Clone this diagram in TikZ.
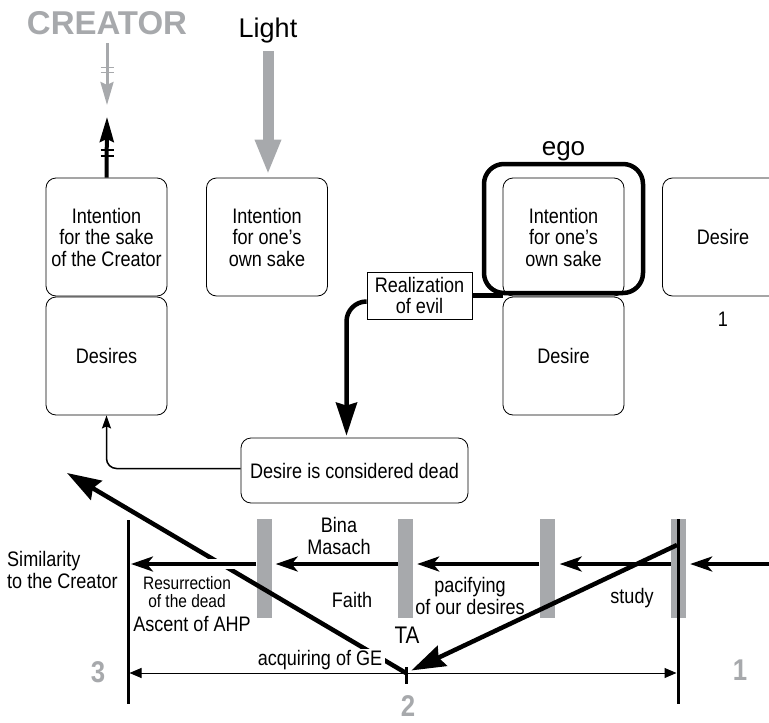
\documentclass[tikz,border=0pt]{standalone}
\usepackage{fontspec}
\setmainfont[FakeStretch=0.86]{Liberation Sans}
\newfontfamily\widesans{Liberation Sans}
\usepackage{tikz}
\usetikzlibrary{arrows.meta}
\usetikzlibrary{positioning}
\definecolor{bargray}{HTML}{A7A9AC}

\begin{document}
\begin{tikzpicture}[x=1pt,y=-1pt,
  font=\fontsize{21}{21.5}\selectfont,
  box/.style={draw,line width=0.8pt,rounded corners=10pt,minimum width=121pt,minimum height=118pt,align=center,inner sep=1pt},
  txt/.style={align=center,inner sep=1pt},
  num/.style={font=\fontsize{30}{30}\selectfont\bfseries,text=bargray},
  bar/.style={fill=bargray,minimum width=15pt,minimum height=99pt,inner sep=0pt},
  flow/.style={line width=3.5pt,-{Stealth[length=22pt,width=15pt,inset=6pt]}},
  bigarrow/.style={line width=4.5pt,-{Stealth[length=34pt,width=22pt,inset=4pt]}},
  dim/.style={line width=1pt,-{Triangle[length=12pt,width=10pt]}}]
\clip (0,0) rectangle (769,723);

\node (creator) [font=\fontsize{33}{33}\widesans\bfseries,text=bargray] at (107,23) {CREATOR};
\node (light) [font=\fontsize{27}{27}\widesans] at (268,31) {Light};

\node (ego) [draw,line width=4.5pt,rounded corners=20pt,minimum width=159pt,minimum height=129pt] at (563.5,228.5) {};
\node (egolabel) [above=1pt of ego,inner sep=0pt,font=\fontsize{26}{26}\widesans] {ego};

\node (intc) [box] at (106.5,237) {Intention\\for the sake\\of the Creator};
\node (desires) [box] at (106.5,356) {Desires};
\node (intl) [box] at (267,237) {Intention\\for one's\\own sake};
\node (egoin) [box] at (563.5,237) {Intention\\for one's\\own sake};
\node (desire) [box] at (563.5,356) {Desire};
\node (rdesire) [box] at (723,237) {Desire};
\node (one) [below=15pt of rdesire,inner sep=0pt] {1};
\node (real) [draw,line width=0.8pt,minimum width=105pt,minimum height=47pt,align=center,inner sep=1pt] at (419.5,295.5) {Realization\\of evil};
\node (dead) [box,minimum width=227pt,minimum height=65pt] at (354.5,470.5) {Desire is considered dead};

\coordinate (cdown) at (107,105);
\coordinate (cup) at (107,117);
\draw[bargray,line width=3pt,shorten <=5pt,-{Stealth[length=23pt,width=13pt,inset=3pt]}] (creator.south) -- (cdown);
\foreach \y in {67,72} \draw[bargray,line width=1pt] (100.5,\y) -- ++(13,0);
\draw[line width=4pt,-{Stealth[length=25pt,width=14pt,inset=3pt]}] (intc.north) -- (cup);
\foreach \y in {150,156} \draw[line width=1.2pt] (100.5,\y) -- ++(13,0);
\draw[bargray,line width=11pt,shorten <=4pt,shorten >=3pt,-{Triangle[length=35pt,width=24pt]}] (light.south) -- (light.south |- intl.north);

\draw[line width=4.5pt] (real.east) -- (real.east -| egoin.west);
\draw[line width=4.5pt,rounded corners=20pt,shorten >=2pt,-{Stealth[length=33pt,width=21pt,inset=3pt]}] ([yshift=-6pt]real.west) -| ([xshift=-8pt]dead.north);
\draw[line width=1.5pt,rounded corners=10pt,-{Stealth[length=13pt,width=9pt,inset=2pt]}] ([yshift=2pt]dead.west) -| (desires.south);

\node (bar1) [bar] at (264,568.5) {};
\node (bar2) [bar] at (405.5,568.5) {};
\node (bar3) [bar] at (547,568.5) {};
\node (bar4) [bar] at (678.5,568.5) {};
\coordinate (row) at (0,564);
\coordinate (ltop) at (128,520);
\coordinate (lbot) at (128,704);
\coordinate (rtop) at (678,519);
\coordinate (rbot) at (678,704);
\coordinate (rin) at (772,564);
\coordinate (p2) at (406,673);
\coordinate (up) at (67,473);
\coordinate (start) at (677,545);

\draw[line width=3pt] (ltop) -- (lbot);
\draw[line width=3pt] (rtop) -- (rbot);
\draw[bigarrow] (p2) -- (up);
\draw[white,line width=10pt] (bar1.west |- row) -- ([xshift=4pt]ltop |- row);
\draw[flow,shorten >=4pt] (rin) -- (bar4.east |- row);
\draw[flow,shorten >=5pt] (bar4.west |- row) -- (bar3.east |- row);
\draw[flow,shorten >=4pt] (bar3.west |- row) -- (bar2.east |- row);
\draw[flow,shorten >=4pt] (bar2.west |- row) -- (bar1.east |- row);
\draw[flow,shorten >=3pt] (bar1.west |- row) -- (ltop |- row);
\draw[bigarrow,shorten >=6pt] (start) -- (p2);

\node (acq) [fill=white,inner xsep=3pt,inner ysep=1pt] at (320,660) {acquiring of GE};
\draw[dim,shorten >=1.5pt] (p2) -- (ltop |- p2);
\draw[dim,shorten >=1.5pt] (p2) -- (rtop |- p2);
\draw[line width=3pt] ([yshift=6pt]p2) -- ([yshift=-11pt]p2);

\node (sim) [txt,align=left,anchor=west] at (6,570) {Similarity\\to the Creator};
\node (res) [txt,font=\fontsize{18}{17.5}\selectfont] at (187,592) {Resurrection\\of the dead};
\node (ahp) [txt] at (192,624) {Ascent of AHP};
\node (bina) [txt] at (339,536) {Bina\\Masach};
\node (faith) [txt] at (352,600) {Faith};
\node (ta) [txt,font=\fontsize{24}{24}\selectfont] at (407,635) {TA};
\node (pac) [txt] at (470,596) {pacifying\\of our desires};
\node (study) [txt] at (632,598) {study};
\node (three) [num] at (98,672) {3};
\node (two) [num] at (408,706) {2};
\node (onegray) [num] at (740,670) {1};
\end{tikzpicture}
\end{document}
